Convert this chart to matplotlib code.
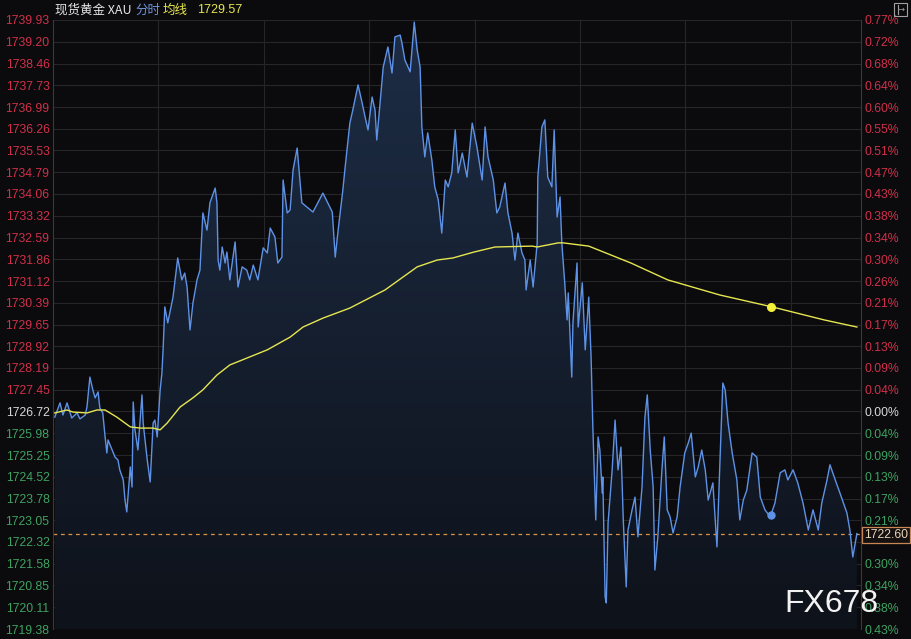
import numpy as np
from matplotlib import pyplot as plt
from matplotlib.patches import Polygon, Rectangle
from matplotlib.colors import LinearSegmentedColormap

W, H = 911, 639

# minutes from session open, spot gold price
times = [3, 12, 17, 24, 32, 41, 46, 55, 58, 63, 68, 72, 77, 80, 85, 89, 92, 94, 101, 106,
         111, 114, 120, 123, 126, 132, 135, 137, 140, 145, 152, 154, 161, 166, 171, 174, 178, 183, 186, 188,
         191, 196, 205, 213, 220, 225, 229, 234, 239, 246, 251, 256, 263, 268, 277, 280, 282, 285, 289, 294,
         297, 302, 311, 316, 323, 331, 336, 342, 350, 359, 366, 371, 379, 384, 391, 393, 400, 405, 410, 417,
         425, 444, 461, 477, 482, 487, 495, 499, 507, 512, 521, 528, 533, 538, 545, 550, 553, 559, 564, 572,
         579, 584, 593, 596, 601, 610, 617, 622, 627, 630, 635, 640, 647, 652, 658, 664, 670, 675, 681, 687,
         692, 699, 707, 716, 724, 733, 738, 743, 752, 758, 763, 772, 777, 784, 789, 794, 801, 806, 808, 815,
         820, 827, 828, 835, 840, 845, 852, 856, 861, 866, 869, 874, 878, 880, 886, 888, 895, 897, 904, 909,
         915, 919, 922, 927, 931, 934, 938, 939, 943, 945, 948, 955, 960, 965, 970, 974, 979, 982, 989, 994,
         999, 1006, 1011, 1015, 1020, 1025, 1028, 1033, 1040, 1044, 1049, 1054, 1059, 1066, 1071, 1079, 1085, 1090, 1097, 1102,
         1108, 1114, 1119, 1127, 1134, 1139, 1144, 1148, 1153, 1160, 1168, 1173, 1179, 1185, 1194, 1202, 1208, 1216, 1225, 1233,
         1242, 1250, 1255, 1264, 1272, 1281, 1290, 1298, 1307, 1313, 1322, 1327, 1336, 1344, 1356, 1361, 1366, 1373]
prices = [1726.53, 1727.01, 1726.60, 1727.01, 1726.50, 1726.67, 1726.47, 1726.60, 1726.87, 1727.88,
          1727.45, 1727.18, 1727.38, 1726.84, 1726.67, 1725.86, 1725.32, 1725.76, 1725.42, 1725.18,
          1725.08, 1724.75, 1724.41, 1723.73, 1723.33, 1724.85, 1724.17, 1727.04, 1726.10, 1725.42,
          1727.28, 1726.33, 1725.08, 1724.34, 1726.33, 1726.43, 1725.86, 1727.45, 1728.02, 1728.80,
          1730.25, 1729.71, 1730.58, 1731.90, 1731.16, 1731.39, 1730.92, 1729.47, 1730.38, 1731.16,
          1731.49, 1733.42, 1732.84, 1733.76, 1734.26, 1733.76, 1731.83, 1731.49, 1732.27, 1731.73,
          1732.10, 1731.16, 1732.44, 1730.92, 1731.60, 1731.49, 1731.16, 1731.66, 1731.16, 1732.24,
          1732.07, 1732.91, 1732.61, 1731.73, 1731.93, 1734.53, 1733.42, 1733.52, 1734.87, 1735.61,
          1733.76, 1733.45, 1734.09, 1733.45, 1731.93, 1732.84, 1734.19, 1734.97, 1736.45, 1736.89,
          1737.74, 1737.13, 1736.66, 1736.22, 1737.33, 1736.89, 1735.88, 1737.23, 1738.34, 1739.02,
          1738.14, 1739.36, 1739.42, 1739.15, 1738.58, 1738.18, 1739.86, 1738.92, 1738.34, 1736.32,
          1735.31, 1736.12, 1735.21, 1734.30, 1733.86, 1732.74, 1734.53, 1734.30, 1734.77, 1736.22,
          1734.77, 1735.44, 1734.63, 1736.45, 1735.65, 1734.53, 1736.32, 1735.31, 1734.53, 1733.42,
          1733.62, 1734.43, 1733.42, 1732.74, 1731.83, 1732.74, 1732.07, 1731.83, 1730.82, 1731.83,
          1730.92, 1732.41, 1734.63, 1736.32, 1736.56, 1734.63, 1734.30, 1736.22, 1733.28, 1733.96,
          1732.41, 1731.06, 1729.81, 1730.72, 1727.88, 1729.71, 1731.73, 1729.57, 1731.06, 1728.80,
          1730.58, 1728.56, 1726.20, 1723.06, 1725.86, 1725.42, 1723.97, 1724.51, 1720.46, 1720.26,
          1722.96, 1724.75, 1726.43, 1724.75, 1725.52, 1723.06, 1720.80, 1722.72, 1723.40, 1723.83,
          1722.49, 1724.17, 1726.53, 1727.28, 1725.42, 1724.17, 1721.37, 1722.49, 1724.75, 1725.86,
          1723.40, 1723.16, 1722.62, 1723.16, 1724.17, 1725.32, 1725.66, 1725.99, 1724.51, 1724.85,
          1725.42, 1724.75, 1723.73, 1724.31, 1722.15, 1724.98, 1727.68, 1727.45, 1726.33, 1725.32,
          1724.41, 1723.06, 1723.73, 1724.07, 1725.32, 1725.18, 1723.83, 1723.40, 1723.16, 1723.63,
          1724.65, 1724.75, 1724.41, 1724.75, 1724.31, 1723.63, 1722.72, 1723.40, 1722.72, 1723.63,
          1724.41, 1724.92, 1724.41, 1723.97, 1723.29, 1722.72, 1721.81, 1722.60]

# average line
avg_times = [3, 24, 34, 58, 75, 89, 109, 132, 149, 171, 183, 195, 217, 239, 256, 280, 302, 366, 405, 427,
             461, 507, 567, 622, 656, 683, 719, 755, 818, 827, 863, 871, 915, 987, 1050, 1139, 1228, 1317, 1373]
avg_prices = [1726.67, 1726.77, 1726.70, 1726.67, 1726.77, 1726.77, 1726.53, 1726.20, 1726.16, 1726.16,
              1726.10, 1726.33, 1726.87, 1727.18, 1727.45, 1727.95, 1728.29, 1728.80, 1729.23, 1729.57,
              1729.87, 1730.21, 1730.82, 1731.60, 1731.83, 1731.90, 1732.10, 1732.27, 1732.30, 1732.27,
              1732.41, 1732.41, 1732.30, 1731.73, 1731.16, 1730.65, 1730.25, 1729.81, 1729.57]

price_ticks = [1739.93, 1739.20, 1738.46, 1737.73, 1736.99, 1736.26, 1735.53, 1734.79, 1734.06, 1733.32,
               1732.59, 1731.86, 1731.12, 1730.39, 1729.65, 1728.92, 1728.19, 1727.45, 1726.72, 1725.98,
               1725.25, 1724.52, 1723.78, 1723.05, 1722.32, 1721.58, 1720.85, 1720.11, 1719.38]
# the 1722.32 level on the right is covered by the last-price box
pct_labels = ["0.77%", "0.72%", "0.68%", "0.64%", "0.60%", "0.55%", "0.51%", "0.47%", "0.43%", "0.38%",
              "0.34%", "0.30%", "0.26%", "0.21%", "0.17%", "0.13%", "0.09%", "0.04%", "0.00%", "0.04%",
              "0.09%", "0.13%", "0.17%", "0.21%", "", "0.30%", "0.34%", "0.38%", "0.43%"]
prev_close = 1726.72
last_price = 1722.60
cursor_time = 1226
session_minutes = 1380

BG = "#0b0b0d"
RED = "#d0304a"
GREEN = "#3fa262"
NEUTRAL = "#d8d8d8"
NUM_FONT = ["Liberation Sans", "DejaVu Sans"]
CJK_FONT = ["Noto Sans CJK SC", "DejaVu Sans"]

fig = plt.figure(figsize=(W / 100, H / 100), dpi=100, facecolor=BG)
ax = fig.add_axes([53 / W, 10 / H, 808 / W, 609 / H])
ax.set_facecolor(BG)

ymin, ymax = min(price_ticks), max(price_ticks)

# gradient fill under the price line
poly = Polygon(np.column_stack([np.r_[times[0], times, times[-1]],
                                np.r_[ymin, prices, ymin]]),
               closed=True, facecolor="none", edgecolor="none")
ax.add_patch(poly)
cmap = LinearSegmentedColormap.from_list("fill", ["#0e121a", "#1d2d46"])
grad = np.linspace(1, 0, 256).reshape(-1, 1)
im = ax.imshow(grad, extent=[times[0], times[-1], ymin, ymax], aspect="auto",
               cmap=cmap, zorder=1)
im.set_clip_path(poly)

ax.plot(times, prices, color="#5e92e6", lw=1.0, zorder=3)
ax.plot(avg_times, avg_prices, color="#e6e650", lw=1.0, zorder=4)
ax.axhline(last_price, color="#d8944a", lw=0.9, ls=(0, (3, 3)), zorder=2)

# cursor markers
ax.plot(cursor_time, np.interp(cursor_time, avg_times, avg_prices), "o",
        color="#f2f03a", ms=5.5, zorder=5)
ax.plot(cursor_time, np.interp(cursor_time, times, prices), "o",
        color="#5e92e6", ms=5, zorder=5)

ax.set_xlim(0, session_minutes)
ax.set_ylim(ymin, ymax)
ax.set_xticks(range(180, session_minutes, 180))
ax.set_yticks(price_ticks)
ax.grid(True, color="#262628", lw=0.8, zorder=0)
ax.set_axisbelow(True)
ax.tick_params(axis="x", length=0, labelbottom=False)
ax.tick_params(axis="y", length=0, pad=2.5)
ax.set_yticklabels([f"{v:.2f}" for v in price_ticks], fontsize=8.8, family=NUM_FONT)
for v, lab in zip(price_ticks, ax.get_yticklabels()):
    lab.set_color(RED if v > prev_close + 0.001 else GREEN if v < prev_close - 0.001 else NEUTRAL)

for s in ["top", "bottom"]:
    ax.spines[s].set_visible(False)
for s in ["left", "right"]:
    ax.spines[s].set_color("#3a3a3c")
    ax.spines[s].set_linewidth(0.8)

ax2 = ax.twinx()
ax2.set_ylim(ymin, ymax)
ax2.set_yticks(price_ticks)
ax2.set_yticklabels(pct_labels, fontsize=8.8, family=NUM_FONT)
ax2.tick_params(axis="y", length=0, pad=2.5)
for v, lab in zip(price_ticks, ax2.get_yticklabels()):
    lab.set_color(RED if v > prev_close + 0.001 else GREEN if v < prev_close - 0.001 else NEUTRAL)
for s in ax2.spines.values():
    s.set_visible(False)

# header
fig.text(55 / W, 1 - 10 / H, "现货黄金 XAU", color="#e6e6e6", fontsize=9,
         family=CJK_FONT, va="center", ha="left")
fig.text(135 / W, 1 - 10 / H, "分时", color="#6f93dc", fontsize=9,
         family=CJK_FONT, va="center", ha="left")
fig.text(163 / W, 1 - 10 / H, "均线", color="#e6e650", fontsize=9,
         family=CJK_FONT, va="center", ha="left")
fig.text(197 / W, 1 - 10 / H, f"{avg_prices[-1]:.2f}", color="#e6e650", fontsize=9,
         family=NUM_FONT, va="center", ha="left")

# last price box on the right axis
fig.text(886 / W, 1 - 535 / H, f"{last_price:.2f}", color="#e8d4bc", fontsize=8.8,
         family=NUM_FONT, va="center", ha="center",
         bbox=dict(boxstyle="square,pad=0.2", fc="#141110", ec="#c88654", lw=0.9))

# small icon top right
fig.patches.append(Rectangle((894 / W, 1 - 16 / H), 13 / W, 13 / H, transform=fig.transFigure,
                             fill=False, ec="#a0a0a0", lw=0.8))
fig.lines.append(plt.Line2D([897.5 / W, 897.5 / W], [1 - 14 / H, 1 - 5 / H],
                            transform=fig.transFigure, color="#a0a0a0", lw=0.8))
fig.text(901.5 / W, 1 - 9.5 / H, "→", color="#a0a0a0", fontsize=6, ha="center", va="center")

# watermark
fig.text(831 / W, 1 - 604 / H, "FX678", color="#f2f2f2", fontsize=23, family=NUM_FONT,
         ha="center", va="center", zorder=10)

plt.savefig("out.png", dpi=100, facecolor=BG)
